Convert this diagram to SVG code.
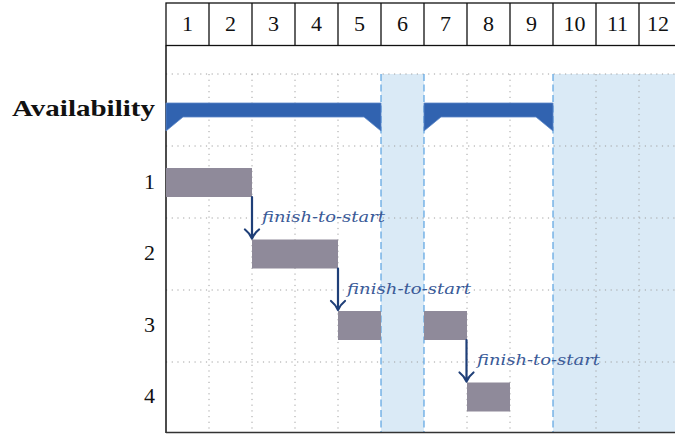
<svg xmlns="http://www.w3.org/2000/svg" width="675" height="436" viewBox="0 0 675 436">
<style>
.num{font-family:"Liberation Serif","Times New Roman",serif;font-size:22px;fill:#111;}
.hdr{text-anchor:middle;}
.row{text-anchor:end;}
.lbl{font-family:"DejaVu Serif","Liberation Serif",serif;font-style:italic;font-size:15px;fill:#3a5a98;}
.grid{stroke:#a0a0a0;stroke-width:1;stroke-dasharray:1.2 4.5;fill:none;}
.off{fill:#daeaf6;}
.offedge{stroke:#5aa2e2;stroke-width:1.2;stroke-dasharray:7 3.5;fill:none;}
.task{fill:#8f8a9a;}
.avail{fill:#3163b0;stroke:#5a86c8;stroke-width:0.8;}
.arr{stroke:#1f3f78;stroke-width:2.2;fill:none;stroke-linecap:round;stroke-linejoin:round;}
.hline{stroke:#111;stroke-width:1.3;fill:none;}
</style>
<rect width="675" height="436" fill="#fff"/>

<g id="offtime">
<rect class="off" x="381" y="74" width="43" height="358"/>
<rect class="off" x="553" y="74" width="130" height="358"/>
</g>

<g id="grid">
<path class="grid" d="M166,74H675M166,146H675M166,218H675M166,290H675M166,362H675"/>
<path class="grid" d="M209,74V432M252,74V432M295,74V432M338,74V432M467,74V432M510,74V432M596,74V432M639,74V432"/>
<path class="offedge" d="M381,74V432M424,74V432M553,74V432"/>
</g>

<g id="header">
<rect x="166" y="3" width="520" height="42.5" fill="#fff" class="hline"/>
<path class="hline" d="M209,3V45.5M252,3V45.5M295,3V45.5M338,3V45.5M381,3V45.5M424,3V45.5M467,3V45.5M510,3V45.5M553,3V45.5M596,3V45.5M639,3V45.5"/>
<text class="num hdr" x="187.5" y="31">1</text>
<text class="num hdr" x="230.5" y="31">2</text>
<text class="num hdr" x="273.5" y="31">3</text>
<text class="num hdr" x="316.5" y="31">4</text>
<text class="num hdr" x="359.5" y="31">5</text>
<text class="num hdr" x="402.5" y="31">6</text>
<text class="num hdr" x="445.5" y="31">7</text>
<text class="num hdr" x="488.5" y="31">8</text>
<text class="num hdr" x="531.5" y="31">9</text>
<text class="num hdr" x="574.5" y="31">10</text>
<text class="num hdr" x="617.5" y="31">11</text>
<text class="num hdr" x="658" y="31">12</text>
</g>

<g id="axes">
<path d="M166,45.5V433" stroke="#111" stroke-width="1.5" fill="none"/>
<path d="M166,432.5H675" stroke="#333" stroke-width="1.5" fill="none"/>
</g>

<g id="availability">
<text x="155" y="116" text-anchor="end" textLength="143" lengthAdjust="spacingAndGlyphs" style="font-family:'Liberation Serif','Times New Roman',serif;font-weight:bold;font-size:23px;fill:#111;">Availability</text>
<path class="avail" d="M166,103H381V131L364,117H183L166,131Z"/>
<path class="avail" d="M424,103H553V131L536,117H441L424,131Z"/>
</g>

<g id="task1">
<text class="num row" x="155" y="188.5">1</text>
<rect class="task" x="166" y="168" width="86" height="29"/>
</g>
<g id="task2">
<text class="num row" x="155" y="260">2</text>
<rect class="task" x="252" y="239.5" width="86" height="29"/>
</g>
<g id="task3">
<text class="num row" x="155" y="331.5">3</text>
<rect class="task" x="338" y="311" width="43" height="29"/>
<rect class="task" x="424" y="311" width="43" height="29"/>
</g>
<g id="task4">
<text class="num row" x="155" y="402.5">4</text>
<rect class="task" x="467" y="382.5" width="43" height="29"/>
</g>

<g id="connectors">
<path class="arr" d="M252,197V238M245,229.5Q249.5,233 252,238.5Q254.5,233 259,229.5"/>
<text class="lbl" x="262" y="222" textLength="123" lengthAdjust="spacingAndGlyphs">finish-to-start</text>
<path class="arr" d="M338,268.5V309.5M331,301Q335.5,304.5 338,310Q340.5,304.5 345,301"/>
<text class="lbl" x="347" y="293.5" textLength="124" lengthAdjust="spacingAndGlyphs">finish-to-start</text>
<path class="arr" d="M466.5,340V381M459.5,372.5Q464,376 466.5,381.5Q469,376 473.5,372.5"/>
<text class="lbl" x="477" y="365" textLength="123" lengthAdjust="spacingAndGlyphs">finish-to-start</text>
</g>
</svg>
